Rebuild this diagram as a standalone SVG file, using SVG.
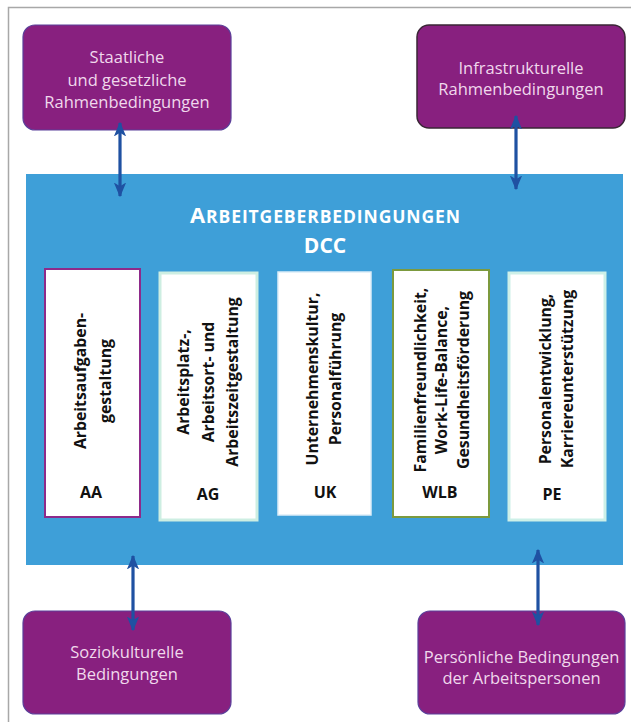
<svg xmlns="http://www.w3.org/2000/svg" width="631" height="722" viewBox="0 0 631 722">
<defs>
<style>
.frame{fill:none;stroke:#a8a8a8;stroke-width:1.5}
.ext{fill:#88207f;stroke:#5b3f9a;stroke-width:1.2}
.ext2{fill:#88207f;stroke:#3a2636;stroke-width:1.5}
.extt{font-family:"Open Sans","Noto Sans",sans-serif;font-size:16.5px;fill:#f0d8ec;text-anchor:middle}
.main{fill:#3e9fd8}
.title{font-family:"Open Sans","Noto Sans",sans-serif;font-weight:bold;fill:#ffffff;text-anchor:middle}
.inner{fill:#ffffff}
.vt{font-family:"Open Sans","Noto Sans",sans-serif;font-weight:bold;font-size:15.8px;fill:#111111;text-anchor:middle}
.ab{font-family:"Open Sans","Noto Sans",sans-serif;font-weight:bold;font-size:16px;fill:#111111;text-anchor:middle}
.conn{stroke:#1f51a2;stroke-width:3.2;fill:none;marker-start:url(#ah);marker-end:url(#ah)}
</style>
<marker id="ah" viewBox="0 0 12 10" refX="11" refY="5" markerWidth="4.6" markerHeight="4" orient="auto-start-reverse" markerUnits="strokeWidth">
<path d="M0,0 L12,5 L0,10 L3,5 Z" fill="#1f51a2"/>
</marker>
</defs>
<rect x="0" y="0" width="631" height="722" fill="#ffffff"/>
<path class="frame" d="M8.5,722 L8.5,7.5 L631,7.5"/>

<g id="dcc">
<rect class="main" x="26" y="174" width="597" height="391"/>
<text class="title" x="325" y="223" textLength="270" lengthAdjust="spacing"><tspan font-size="22px">A</tspan><tspan font-size="17.5px">RBEITGEBERBEDINGUNGEN</tspan></text>
<text class="title" x="325" y="253" font-size="21px">DCC</text>
</g>

<g id="aa">
<rect class="inner" x="45" y="269" width="95" height="248" stroke="#8e2a8a" stroke-width="2"/>
<g transform="translate(0,381) rotate(-90)">
<text class="vt" x="0" y="86">Arbeitsaufgaben-</text>
<text class="vt" x="0" y="111">gestaltung</text>
</g>
<text class="ab" x="91" y="498">AA</text>
</g>

<g id="ag">
<rect class="inner" x="160" y="273" width="97" height="247" stroke="#cdeee2" stroke-width="3"/>
<g transform="translate(0,382) rotate(-90)">
<text class="vt" x="0" y="189">Arbeitsplatz-,</text>
<text class="vt" x="0" y="213.5">Arbeitsort- und</text>
<text class="vt" x="0" y="238">Arbeitszeitgestaltung</text>
</g>
<text class="ab" x="208" y="500">AG</text>
</g>

<g id="uk">
<rect class="inner" x="278" y="272" width="93" height="243" stroke="#dcedf7" stroke-width="1.5"/>
<g transform="translate(0,379) rotate(-90)">
<text class="vt" x="0" y="318">Unternehmenskultur,</text>
<text class="vt" x="0" y="341">Personalführung</text>
</g>
<text class="ab" x="325" y="498">UK</text>
</g>

<g id="wlb">
<rect class="inner" x="393" y="270" width="96" height="247" stroke="#7c9a3e" stroke-width="2"/>
<g transform="translate(0,380) rotate(-90)">
<text class="vt" x="0" y="425.5">Familienfreundlichkeit,</text>
<text class="vt" x="0" y="447">Work-Life-Balance,</text>
<text class="vt" x="0" y="468.5">Gesundheitsförderung</text>
</g>
<text class="ab" x="440" y="498">WLB</text>
</g>

<g id="pe">
<rect class="inner" x="509" y="273" width="96" height="247" stroke="#cdf0e8" stroke-width="3"/>
<g transform="translate(0,379) rotate(-90)">
<text class="vt" x="0" y="551">Personalentwicklung,</text>
<text class="vt" x="0" y="573">Karriereunterstützung</text>
</g>
<text class="ab" x="552" y="500">PE</text>
</g>

<g id="staatlich">
<rect class="ext" x="23" y="25" width="208" height="105" rx="12"/>
<text class="extt" x="127" y="63">Staatliche</text>
<text class="extt" x="127" y="85.5">und gesetzliche</text>
<text class="extt" x="127" y="108">Rahmenbedingungen</text>
</g>

<g id="infra">
<rect class="ext2" x="417" y="25" width="208" height="103" rx="12"/>
<text class="extt" x="521" y="74">Infrastrukturelle</text>
<text class="extt" x="521" y="95">Rahmenbedingungen</text>
</g>

<g id="sozio">
<rect class="ext" x="23" y="611" width="208" height="103" rx="12"/>
<text class="extt" x="127" y="658">Soziokulturelle</text>
<text class="extt" x="127" y="680">Bedingungen</text>
</g>

<g id="persoenlich">
<rect class="ext" x="418" y="611" width="207" height="103" rx="12"/>
<text class="extt" x="521.5" y="663">Persönliche Bedingungen</text>
<text class="extt" x="521.5" y="684">der Arbeitspersonen</text>
</g>

<g id="connectors">
<line class="conn" x1="120" y1="123" x2="120" y2="196"/>
<line class="conn" x1="516" y1="116" x2="516" y2="189"/>
<line class="conn" x1="133" y1="556" x2="133" y2="630"/>
<line class="conn" x1="538" y1="550" x2="538" y2="625"/>
</g>
</svg>
